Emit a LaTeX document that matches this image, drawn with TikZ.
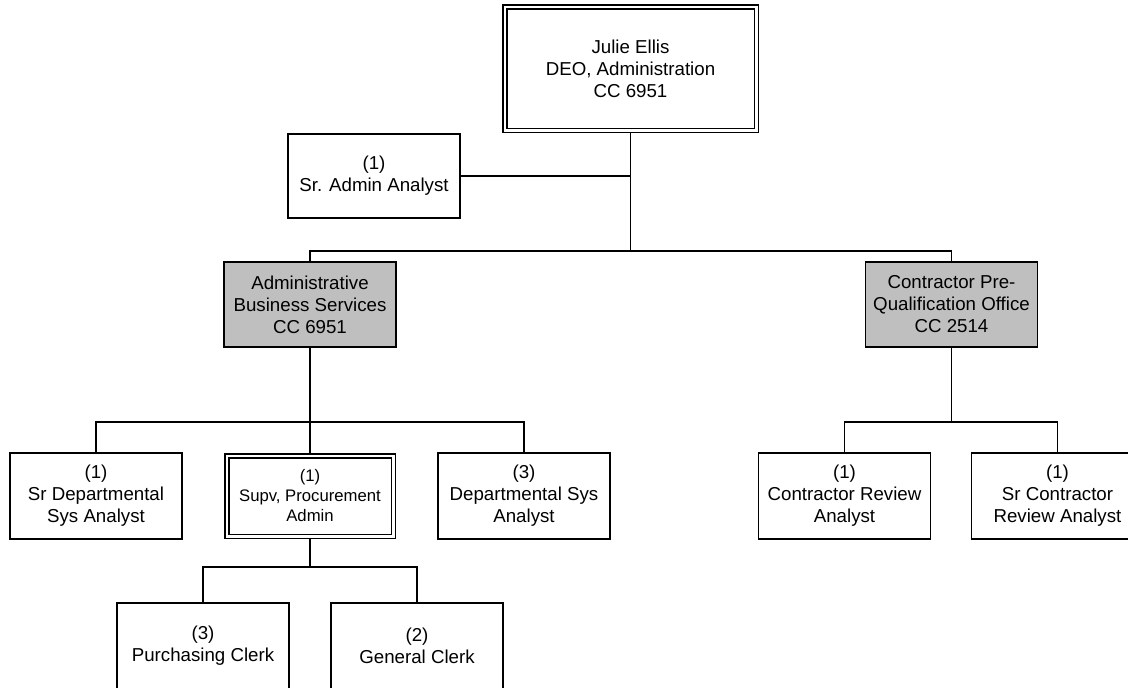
\documentclass[tikz,border=0pt]{standalone}
\usepackage{fontspec}
\setmainfont{Liberation Sans}
\usepackage{tikz}
\usetikzlibrary{positioning}

\begin{document}
\begin{tikzpicture}[
    x=1pt, y=-1pt,
    box/.style={rectangle, draw=black, line width=1.5pt, fill=white, minimum width=172pt, minimum height=86pt, inner sep=0pt, outer sep=0pt, align=center, font=\fontsize{18.7}{22}\selectfont},
    unitbox/.style={box, fill=gray!50, minimum height=85pt},
    dbox/.style={box, double, double distance=2.5pt, minimum width=166.5pt, minimum height=80.5pt, outer sep=2.75pt},
    topbox/.style={dbox, minimum width=251.5pt, minimum height=123.5pt},
    link/.style={draw=black, line width=1.5pt}
]
\useasboundingbox (0,0) rectangle (1128,688);
\clip (0,0) rectangle (1128,688);

\node[topbox] (julie) at (630.5,68.5) {Julie Ellis\\DEO, Administration\\CC 6951};

\node[box, minimum height=84pt] (sra) at (374,176) {(1)\\Sr. Admin Analyst};

\node[unitbox] (abs) at (310,304.5) {Administrative\\Business Services\\CC 6951};
\node[unitbox] (cpq) at (951.5,304.5) {Contractor Pre-\\Qualification Office\\CC 2514};

\node[dbox, below=106pt of abs, font=\fontsize{16.7}{20}\selectfont] (supv) {(1)\\Supv, Procurement\\Admin};
\node[box, left=42pt of supv] (sda) {(1)\\Sr Departmental\\Sys Analyst};
\node[box, right=42pt of supv] (dsa) {(3)\\Departmental Sys\\Analyst};

\node[box] (cra) at (844.5,496) {(1)\\Contractor Review\\Analyst};
\node[box, right=41pt of cra] (scra) {(1)\\Sr Contractor\\Review Analyst};

\node[box] (pc) at (203,646) {(3)\\Purchasing Clerk};
\node[box, right=42pt of pc] (gc) {(2)\\General Clerk};

\coordinate[below=118pt of julie.south] (topbus);
\coordinate[below=75pt of abs.south] (absbus);
\coordinate[below=75pt of cpq.south] (cpqbus);
\coordinate[below=28pt of supv.south] (supvbus);

\draw[link] (julie.south) -- (topbus);
\draw[link] (sra.east) -- (sra.east -| julie.south);
\draw[link] (abs.north) |- (topbus) -| (cpq.north);

\draw[link] (abs.south) -- (absbus);
\draw[link] (sda.north) |- (absbus) -| (dsa.north);
\draw[link] (absbus) -- (supv.north);

\draw[link] (cpq.south) -- (cpqbus);
\draw[link] (cra.north) |- (cpqbus) -| (scra.north);

\draw[link] (supv.south) -- (supvbus);
\draw[link] (pc.north) |- (supvbus) -| (gc.north);

\end{tikzpicture}
\end{document}
